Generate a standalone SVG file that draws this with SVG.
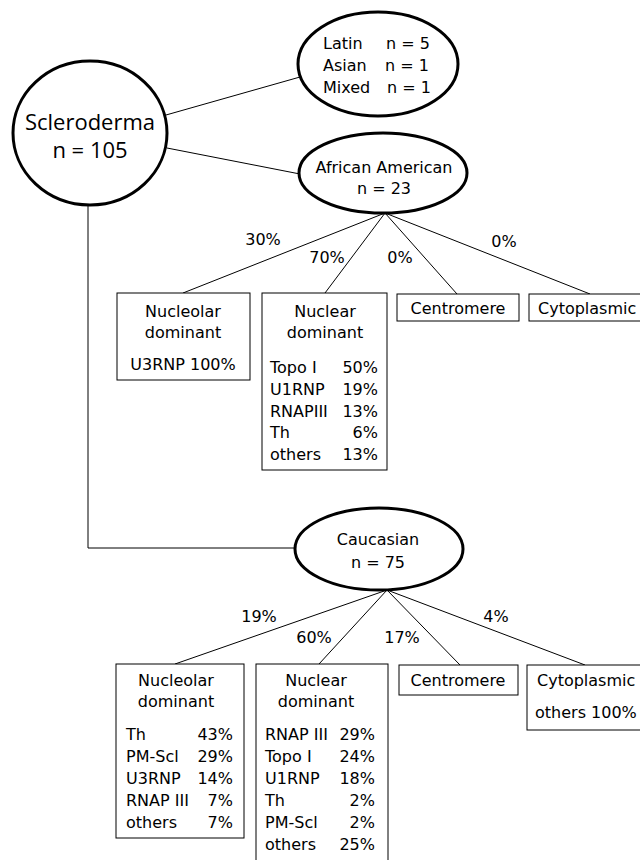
<svg xmlns="http://www.w3.org/2000/svg" width="640" height="860" viewBox="0 0 640 860">
<style>
text{font-family:"DejaVu Sans",sans-serif;font-size:16px;fill:#000}
.big{font-family:"Open Sans","DejaVu Sans",sans-serif;font-size:22px}
.m{text-anchor:middle}
.e{text-anchor:end}
.ell{fill:#fff;stroke:#000;stroke-width:3}
.box{fill:#fff;stroke:#000;stroke-width:1}
.ln{stroke:#000;stroke-width:1;fill:none}
</style>
<rect width="640" height="860" fill="#fff"/>
<g id="connectors">
<line class="ln" x1="166" y1="115" x2="300" y2="77"/>
<line class="ln" x1="167" y1="148" x2="300" y2="174"/>
<polyline class="ln" points="88,205 88,548 297,548"/>
<line class="ln" x1="385" y1="213" x2="183" y2="293"/>
<line class="ln" x1="385" y1="213" x2="325" y2="293"/>
<line class="ln" x1="385" y1="213" x2="457" y2="294"/>
<line class="ln" x1="385" y1="213" x2="590" y2="294"/>
<line class="ln" x1="387" y1="590" x2="175" y2="664"/>
<line class="ln" x1="387" y1="590" x2="319" y2="664"/>
<line class="ln" x1="387" y1="590" x2="460" y2="665"/>
<line class="ln" x1="387" y1="590" x2="585" y2="665"/>
<text x="263" y="245" class="m">30%</text>
<text x="327" y="263" class="m">70%</text>
<text x="400" y="263" class="m">0%</text>
<text x="504" y="247" class="m">0%</text>
<text x="259" y="622" class="m">19%</text>
<text x="314" y="643" class="m">60%</text>
<text x="402" y="643" class="m">17%</text>
<text x="496" y="622" class="m">4%</text>
</g>
<g id="scleroderma">
<ellipse class="ell" cx="90" cy="133" rx="77" ry="72"/>
<text x="90" y="130" class="big m">Scleroderma</text>
<text x="90" y="158" class="big m">n = 105</text>
</g>
<g id="other">
<ellipse class="ell" cx="378" cy="64" rx="80" ry="52"/>
<text x="323" y="49">Latin</text><text x="386" y="49">n = 5</text>
<text x="323" y="71">Asian</text><text x="385" y="71">n = 1</text>
<text x="323" y="93">Mixed</text><text x="387" y="93">n = 1</text>
</g>
<g id="african-american">
<ellipse class="ell" cx="383" cy="173" rx="84" ry="40"/>
<text x="384" y="173" class="m">African American</text>
<text x="384" y="194" class="m">n = 23</text>
</g>
<g id="aa-nucleolar">
<rect class="box" x="117" y="293" width="133" height="87"/>
<text x="183" y="317" class="m">Nucleolar</text>
<text x="183" y="338" class="m">dominant</text>
<text x="183" y="370" class="m">U3RNP 100%</text>
</g>
<g id="aa-nuclear">
<rect class="box" x="262" y="293" width="125" height="177"/>
<text x="325" y="317" class="m">Nuclear</text>
<text x="325" y="338" class="m">dominant</text>
<text x="270" y="373">Topo I</text><text x="378" y="373" class="e">50%</text>
<text x="270" y="395">U1RNP</text><text x="378" y="395" class="e">19%</text>
<text x="270" y="417">RNAPIII</text><text x="378" y="417" class="e">13%</text>
<text x="270" y="438">Th</text><text x="378" y="438" class="e">6%</text>
<text x="270" y="460">others</text><text x="378" y="460" class="e">13%</text>
</g>
<g id="aa-centromere">
<rect class="box" x="397" y="294" width="122" height="27"/>
<text x="458" y="314" class="m">Centromere</text>
</g>
<g id="aa-cytoplasmic">
<rect class="box" x="529" y="294" width="120" height="27"/>
<text x="538" y="314">Cytoplasmic</text>
</g>
<g id="caucasian">
<ellipse class="ell" cx="379" cy="549" rx="84" ry="41"/>
<text x="378" y="545" class="m">Caucasian</text>
<text x="378" y="568" class="m">n = 75</text>
</g>
<g id="c-nucleolar">
<rect class="box" x="116" y="664" width="128" height="174"/>
<text x="176" y="686" class="m">Nucleolar</text>
<text x="176" y="707" class="m">dominant</text>
<text x="126" y="740">Th</text><text x="233" y="740" class="e">43%</text>
<text x="126" y="762">PM-Scl</text><text x="233" y="762" class="e">29%</text>
<text x="126" y="784">U3RNP</text><text x="233" y="784" class="e">14%</text>
<text x="126" y="806">RNAP III</text><text x="233" y="806" class="e">7%</text>
<text x="126" y="828">others</text><text x="233" y="828" class="e">7%</text>
</g>
<g id="c-nuclear">
<rect class="box" x="256" y="664" width="132" height="200"/>
<text x="316" y="686" class="m">Nuclear</text>
<text x="316" y="707" class="m">dominant</text>
<text x="265" y="740">RNAP III</text><text x="375" y="740" class="e">29%</text>
<text x="265" y="762">Topo I</text><text x="375" y="762" class="e">24%</text>
<text x="265" y="784">U1RNP</text><text x="375" y="784" class="e">18%</text>
<text x="265" y="806">Th</text><text x="375" y="806" class="e">2%</text>
<text x="265" y="828">PM-Scl</text><text x="375" y="828" class="e">2%</text>
<text x="265" y="850">others</text><text x="375" y="850" class="e">25%</text>
</g>
<g id="c-centromere">
<rect class="box" x="399" y="665" width="119" height="30"/>
<text x="458" y="686" class="m">Centromere</text>
</g>
<g id="c-cytoplasmic">
<rect class="box" x="527" y="665" width="120" height="65"/>
<text x="537" y="686">Cytoplasmic</text>
<text x="535" y="718">others 100%</text>
</g>
</svg>
